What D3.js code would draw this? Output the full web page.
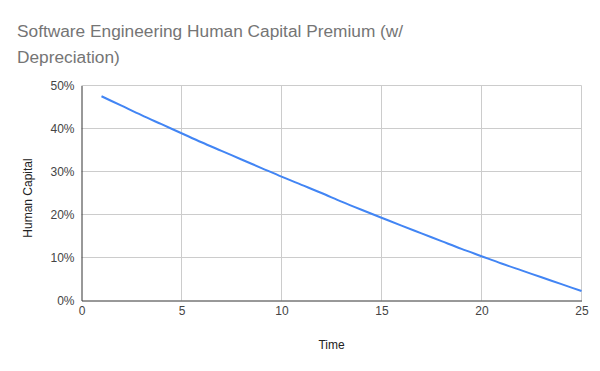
<!DOCTYPE html>
<html>
<head>
<meta charset="utf-8">
<script src="https://cdn.jsdelivr.net/npm/d3@7"></script>
<style>
  html, body { margin: 0; padding: 0; background: #fff; }
  svg { display: block; font-family: "Liberation Sans", Arial, sans-serif; }
</style>
</head>
<body>
<svg id="chart" width="600" height="371"></svg>
<script>
const titleLines = ["Software Engineering Human Capital Premium (w/", "Depreciation)"];
const xLabel = "Time";
const yLabel = "Human Capital";
const years = [1,2,3,4,5,6,7,8,9,10,11,12,13,14,15,16,17,18,19,20,21,22,23,24,25];
const premium = [0.475,0.453,0.431,0.410,0.389,0.368,0.348,0.328,0.308,0.288,0.269,0.250,0.230,0.211,0.1925,0.174,0.156,0.138,0.120,0.103,0.086,0.070,0.054,0.038,0.022];
const xTicks = [0,5,10,15,20,25];
const yTicks = [0,0.1,0.2,0.3,0.4,0.5];

const svg = d3.select("#chart");
const pL = 81.5, pR = 581.5, pT = 85.5, pB = 300.5;

const x = d3.scaleLinear().domain([0,25]).range([pL,pR]);
const y = d3.scaleLinear().domain([0,0.5]).range([pB,pT]);

svg.append("rect").attr("width",600).attr("height",371).attr("fill","#fff");

// title
const title = svg.append("text").attr("x",17).attr("fill","#757575").attr("font-size",17.3);
titleLines.forEach((t,i)=>{
  title.append("tspan").attr("x",17).attr("y",36.7 + i*26.6).text(t);
});

// grid
svg.append("g").selectAll("line").data(yTicks.slice(1)).join("line")
  .attr("x1",pL).attr("x2",pR).attr("y1",d=>y(d)).attr("y2",d=>y(d))
  .attr("stroke","#cccccc").attr("stroke-width",1);
svg.append("g").selectAll("line").data(xTicks.slice(1)).join("line")
  .attr("x1",d=>x(d)).attr("x2",d=>x(d)).attr("y1",pT).attr("y2",pB)
  .attr("stroke","#cccccc").attr("stroke-width",1);

// axes via d3 axis
const yAxis = d3.axisLeft(y).tickValues(yTicks).tickFormat(d3.format(".0%")).tickSize(0).tickPadding(7);
const gy = svg.append("g").attr("transform",`translate(${pL},0)`).call(yAxis);
gy.select(".domain").attr("stroke","#333333");
gy.selectAll("text").attr("font-size",12).attr("fill","#444444").attr("font-family","Liberation Sans, Arial, sans-serif");

const xAxis = d3.axisBottom(x).tickValues(xTicks).tickFormat(d3.format("d")).tickSize(0).tickPadding(6);
const gx = svg.append("g").attr("transform",`translate(0,${pB})`).call(xAxis);
gx.select(".domain").attr("stroke","#333333");
gx.selectAll("text").attr("font-size",12).attr("fill","#444444").attr("font-family","Liberation Sans, Arial, sans-serif");

// axis titles
svg.append("text").attr("x",(pL+pR)/2).attr("y",348.5).attr("text-anchor","middle")
  .attr("font-size",12).attr("fill","#222").text(xLabel);
svg.append("text").attr("transform","translate(31.5,198) rotate(-90)").attr("text-anchor","middle")
  .attr("font-size",12).attr("fill","#222").text(yLabel);

// line
const line = d3.line().x((d,i)=>x(years[i])).y(d=>y(d)).curve(d3.curveMonotoneX);
svg.append("path").datum(premium).attr("d",line).attr("fill","none")
  .attr("stroke","#4285f4").attr("stroke-width",2);
</script>
</body>
</html>
